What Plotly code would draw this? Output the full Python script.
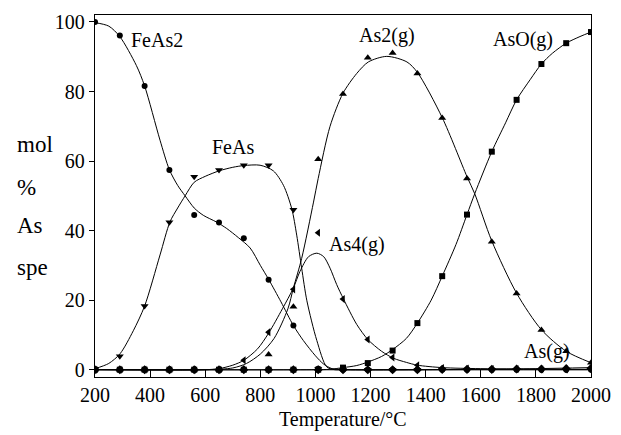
import plotly.graph_objects as go

# ---- data ----
T_pts = [200, 290, 380, 470, 560, 650, 740, 830, 920, 1010, 1100,
         1190, 1280, 1370, 1460, 1550, 1640, 1730, 1820, 1910, 2000]

FeAs2_pts = [100, 96.1, 81.6, 57.4, 44.5, 42.3, 37.8, 25.9, 12.7, 0.3, 0,
             0, 0, 0, 0, 0, 0, 0, 0, 0, 0]
FeAs_pts = [0, 3.9, 18.3, 42.4, 55.5, 57.4, 58.8, 58.8, 46.0, 0.3, 0,
            0, 0, 0, 0, 0, 0, 0, 0, 0, 0]
As2_pts = [0, 0, 0, 0, 0, 0, 0.3, 4.4, 18.1, 60.5, 79.3,
           89.7, 91.1, 85.2, 72.4, 55.0, 36.8, 21.9, 11.4, 5.3, 2.0]
As4_pts = [0, 0, 0, 0, 0, 0, 2.7, 10.8, 23.1, 39.4, 20.3,
           8.7, 3.5, 1.3, 0.5, 0.3, 0.2, 0.2, 0.1, 0.1, 0.1]
AsO_pts = [0, 0, 0, 0, 0, 0, 0, 0, 0, 0, 0.6,
           1.9, 5.5, 13.4, 26.9, 44.6, 62.7, 77.6, 87.9, 93.9, 97.1]
AsG_pts = [0, 0, 0, 0, 0, 0, 0, 0, 0, 0, 0,
           0, 0, 0, 0.1, 0.1, 0.1, 0.2, 0.2, 0.3, 0.4]

# fitted curves
FeAs2_fit_T = [200, 250, 290, 350, 380, 436, 470, 500, 527, 560, 593, 640, 678, 720,
               763, 800, 830, 875, 920, 956, 1000, 1030, 1060, 1100, 1500, 2000]
FeAs2_fit = [99.8, 98.8, 95.8, 87.5, 81.6, 66, 57.5, 53, 50, 46.5, 44.4, 42.5, 40.6, 38,
             35, 30, 26, 19.5, 12.7, 8.4, 4, 1.6, 0.3, 0, 0, 0]

FeAs_fit_T = [200, 250, 291, 339, 380, 436, 472, 500, 527, 560, 600, 651, 700, 740,
              799, 847, 884, 914, 932, 950, 969, 1005, 1041, 1070, 1100, 1500, 2000]
FeAs_fit = [0.3, 1.8, 4.6, 11.2, 18.3, 33, 42.5, 46.5, 50, 53.9, 55.6, 57.2, 58.2, 58.7,
            58.8, 57.2, 53, 46.3, 38.7, 29.2, 19.8, 8.4, 0.8, 0, 0, 0, 0]

As2_fit_T = [200, 600, 700, 750, 800, 850, 900, 920, 950, 993, 1010, 1053, 1100, 1150,
             1192, 1259, 1332, 1370, 1460, 1550, 1578, 1640, 1730, 1820, 1910, 2000]
As2_fit = [0, 0, 0.5, 1.8, 4.5, 9, 17.5, 23.5, 32, 48.2, 55, 70, 79.5, 85.2,
           88.5, 90.1, 88.5, 85.5, 72.5, 55.5, 50.6, 37, 22, 11.5, 5.3, 2]

As4_fit_T = [200, 600, 650, 700, 740, 790, 830, 880, 920, 944, 975, 1005, 1030, 1053,
             1077, 1102, 1150, 1190, 1240, 1283, 1330, 1370, 1460, 1600, 2000]
As4_fit = [0, 0, 0.3, 1.3, 2.7, 6, 10.5, 17.5, 23.5, 28.3, 32.5, 33.5, 32.5, 29.2,
           24.5, 20.3, 13, 8.7, 5.3, 3.3, 2.1, 1.3, 0.6, 0.3, 0.1]

AsO_fit_T = [200, 1000, 1050, 1100, 1150, 1190, 1240, 1280, 1330, 1370, 1420, 1460, 1510,
             1550, 1578, 1640, 1690, 1730, 1780, 1820, 1860, 1910, 1960, 2000]
AsO_fit = [0, 0, 0.1, 0.6, 1.2, 2.2, 3.8, 5.8, 9, 13.4, 20, 26.9, 36,
           44.6, 50.6, 62.7, 71, 77.6, 83.5, 87.9, 91, 93.9, 95.8, 97.1]

AsG_fit_T = [200, 1400, 1600, 1800, 2000]
AsG_fit = [0, 0, 0.1, 0.3, 0.6]

labels = ["FeAs2", "FeAs", "As2(g)", "As4(g)", "AsO(g)", "As(g)"]
label_T = [424, 702, 1259, 1150, 1755, 1840]
label_v = [94.9, 63.9, 96.1, 35.9, 94.9, 5.3]

x_ticks = [200, 400, 600, 800, 1000, 1200, 1400, 1600, 1800, 2000]
y_ticks = [0, 20, 40, 60, 80, 100]
y_title_words = ["mol", "%", "As", "spe"]

FONT = "Liberation Serif"

fig = go.Figure()

series = [
    (FeAs2_fit_T, FeAs2_fit, FeAs2_pts, "circle", 6),
    (FeAs_fit_T, FeAs_fit, FeAs_pts, "triangle-down", 7),
    (As2_fit_T, As2_fit, As2_pts, "triangle-up", 7),
    (As4_fit_T, As4_fit, As4_pts, "triangle-left", 7),
    (AsO_fit_T, AsO_fit, AsO_pts, "square", 6),
    (AsG_fit_T, AsG_fit, AsG_pts, "diamond", 7),
]

for ft, fv, pv, sym, sz in series:
    fig.add_trace(go.Scatter(x=ft, y=fv, mode="lines",
                             line=dict(color="black", width=1, shape="spline", smoothing=0.8),
                             showlegend=False, hoverinfo="skip"))
for ft, fv, pv, sym, sz in series:
    fig.add_trace(go.Scatter(x=T_pts, y=pv, mode="markers",
                             marker=dict(symbol=sym, size=sz, color="black",
                                         line=dict(width=0)),
                             showlegend=False))

for txt, tx, ty in zip(labels, label_T, label_v):
    fig.add_annotation(x=tx, y=ty, xref="x", yref="y", text=txt, showarrow=False,
                       font=dict(family=FONT, size=20, color="black"))

word_y = [0.642, 0.5246, 0.418, 0.303]
for w, wy in zip(y_title_words, word_y):
    fig.add_annotation(x=-0.1614, y=wy, xref="paper", yref="paper", text=w,
                       showarrow=False, xanchor="left", yanchor="middle",
                       font=dict(family=FONT, size=23, color="black"))

fig.add_annotation(x=0.5, y=-0.1175, xref="paper", yref="paper", text="Temperature/°C",
                   showarrow=False, xanchor="center", yanchor="middle",
                   font=dict(family=FONT, size=20, color="black"))

# the page body adds an 8 px offset, so the figure is sized and shifted to compensate
fig.update_layout(
    width=613, height=427,
    margin=dict(l=87, r=30, t=3, b=58),
    paper_bgcolor="white", plot_bgcolor="white",
    font=dict(family=FONT, size=20, color="black"),
    xaxis=dict(range=[200, 2000], tickvals=x_ticks, ticks="inside", ticklen=7,
               tickcolor="black", tickwidth=1, showgrid=False, zeroline=False,
               showline=True, linecolor="black", linewidth=1.3, mirror=True,
               ticklabeloverflow="allow",
               tickfont=dict(family=FONT, size=20)),
    yaxis=dict(range=[-2.1, 102], tickvals=y_ticks, ticks="outside", ticklen=5,
               tickcolor="black", tickwidth=1, showgrid=False, zeroline=False,
               showline=True, linecolor="black", linewidth=1.3, mirror=True,
               ticklabeloverflow="allow",
               tickfont=dict(family=FONT, size=20)),
)

fig.write_html("out.html")
